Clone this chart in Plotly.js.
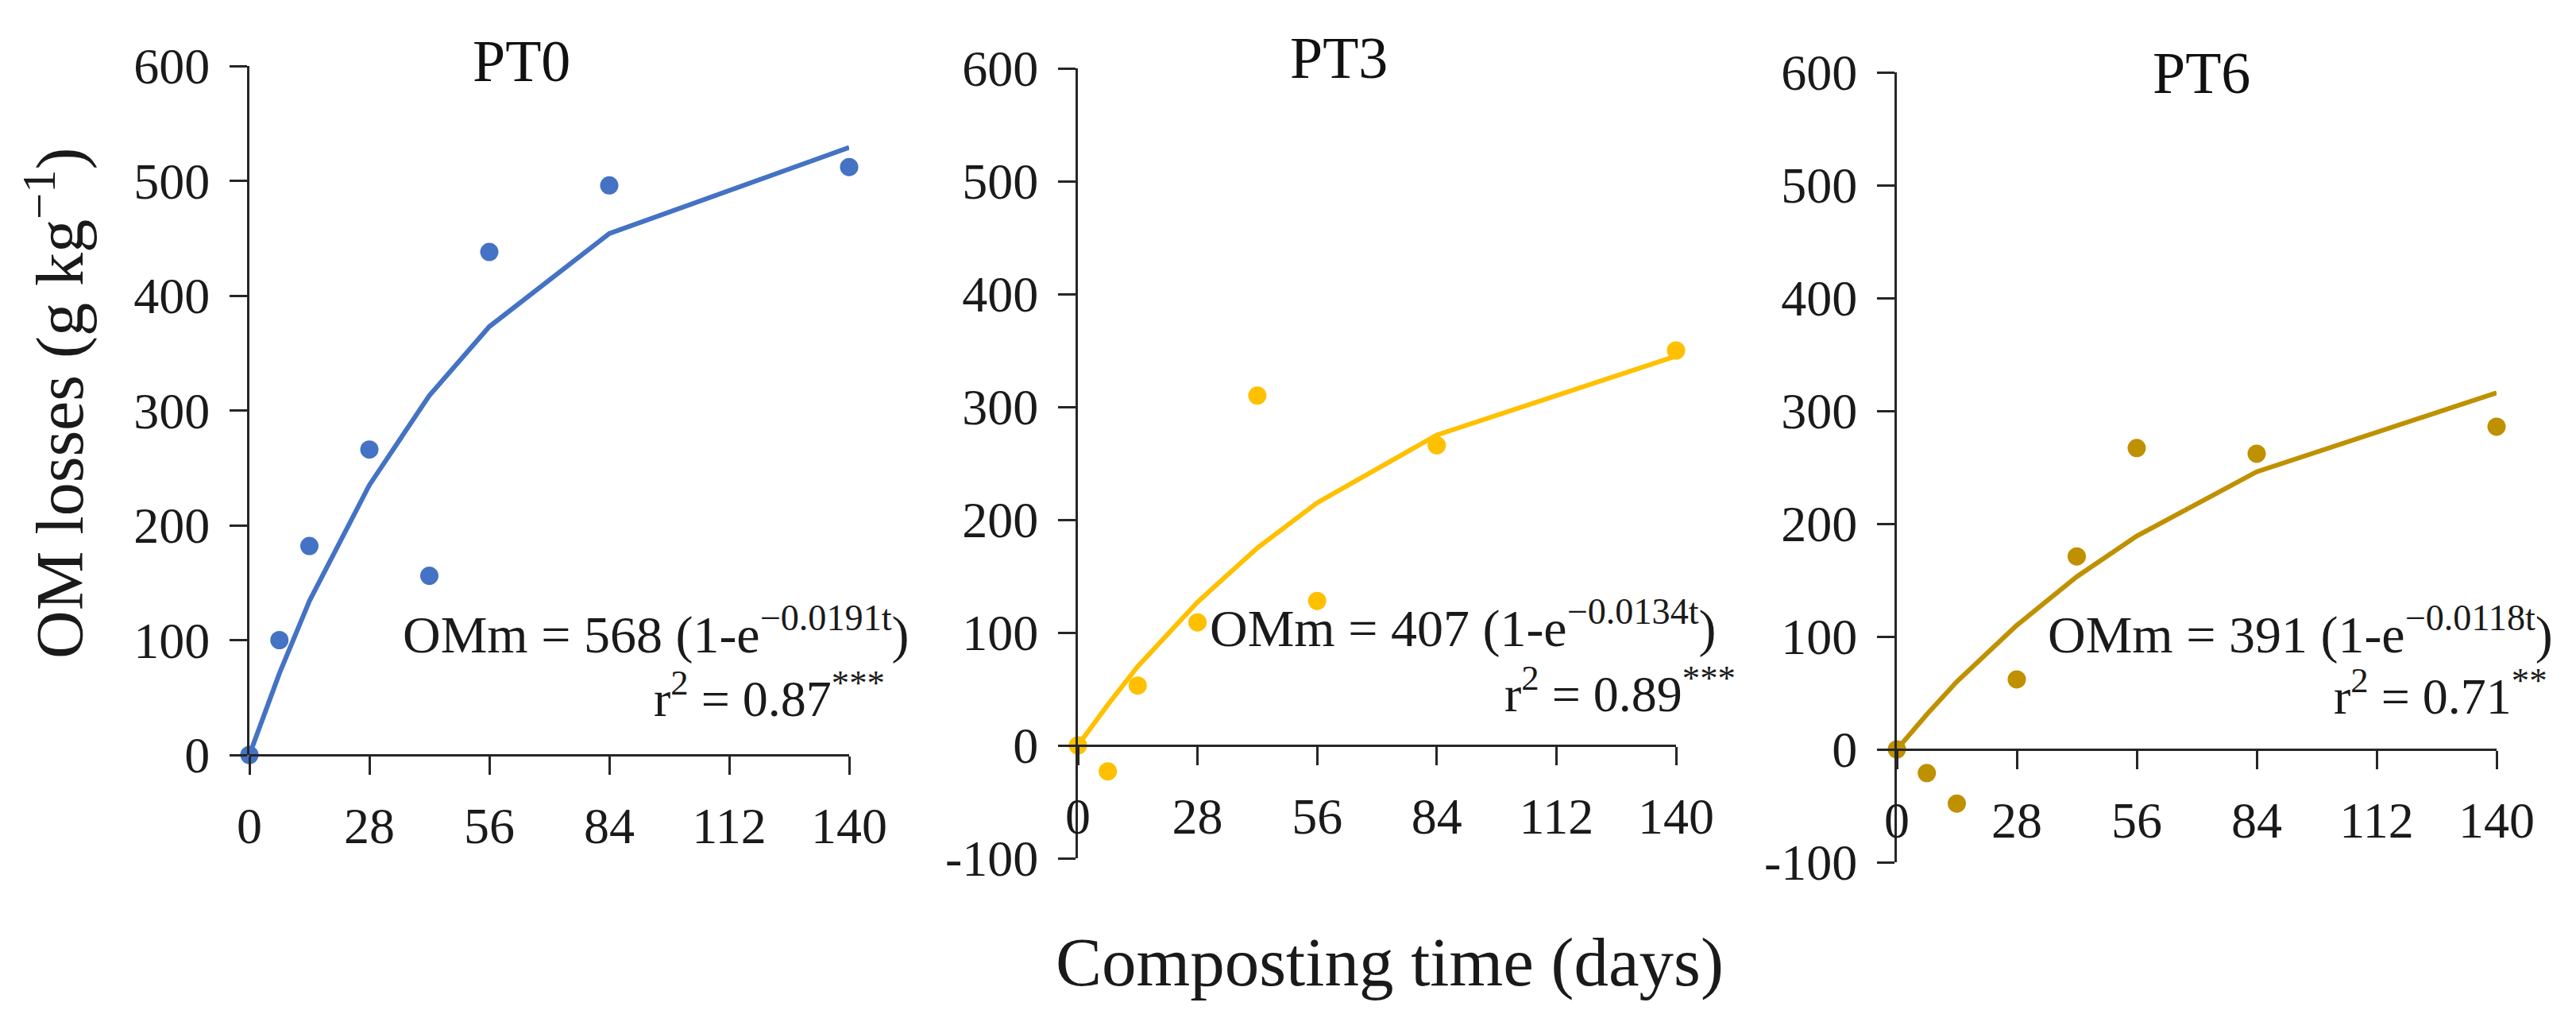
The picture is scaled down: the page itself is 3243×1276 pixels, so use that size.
<!DOCTYPE html>
<html>
<head>
<meta charset="utf-8">
<script src="https://cdn.plot.ly/plotly-3.0.1.min.js"></script>
<style>
  html, body { margin: 0; padding: 0; background: #fff; }
  #chart { width: 3243px; height: 1276px; }
</style>
</head>
<body>
<div id="chart"></div>
<script>
// composting time (days)
var days = [0, 7, 14, 28, 42, 56, 84, 140]

// OM losses (g kg-1), observed points and fitted curve
var pt0_obs = [0, 100, 182, 266, 156, 438, 496, 512]
var pt0_fit = [0, 71, 134, 235, 313, 373, 454, 529]
var pt3_obs = [0, -23, 53, 109, 310, 128, 266, 350]
var pt3_fit = [0, 36, 70, 127, 175, 215, 275, 345]
var pt6_obs = [0, -21, -48, 62, 171, 267, 262, 286]
var pt6_fit = [0, 31, 60, 110, 153, 189, 246, 316]

var panel_names = ["PT0", "PT3", "PT6"]
var equations = [
    "OMm = 568 (1-e<sup>−0.0191t</sup>)",
    "OMm = 407 (1-e<sup>−0.0134t</sup>)",
    "OMm = 391 (1-e<sup>−0.0118t</sup>)"
]
var r2_labels = [
    "r<sup>2</sup> = 0.87<sup>***</sup>",
    "r<sup>2</sup> = 0.89<sup>***</sup>",
    "r<sup>2</sup> = 0.71<sup>**</sup>"
]
var x_ticks = [0, 28, 56, 84, 112, 140]
var y_ticks_pos = [0, 100, 200, 300, 400, 500, 600]
var y_ticks_neg = [-100, 0, 100, 200, 300, 400, 500, 600]
var y_text_pos = ["0", "100", "200", "300", "400", "500", "600"]
var y_text_neg = ["-100", "0", "100", "200", "300", "400", "500", "600"]

var W = 3243, H = 1276
var FONT = "Liberation Serif, Times New Roman, serif"
var AXIS_COLOR = "#262626"
var TEXT_COLOR = "#1a1a1a"

function px(x) { return x / W }
function py(y) { return 1 - y / H }

var colors = ["#4472c4", "#ffc000", "#bf9000"]
var obs_list = [pt0_obs, pt3_obs, pt6_obs]
var fit_list = [pt0_fit, pt3_fit, pt6_fit]

// panel frames in pixels: left, right, top, bottom, y range
var panels = [
    {l: 314, r: 1069, t: 83, b: 950, yr: [0, 600], tv: y_ticks_pos, tt: y_text_pos},
    {l: 1357, r: 2110, t: 86, b: 1080, yr: [-100, 600], tv: y_ticks_neg, tt: y_text_neg},
    {l: 2388, r: 3143, t: 91, b: 1085, yr: [-100, 600], tv: y_ticks_neg, tt: y_text_neg}
]

var data = []
var layout = {
    width: W,
    height: H,
    margin: {t: 0, l: 0, r: 0, b: 0, pad: 0},
    paper_bgcolor: "white",
    plot_bgcolor: "white",
    showlegend: false,
    font: {family: FONT, color: TEXT_COLOR, size: 64},
    annotations: []
}

for (i = 0; i < 3; i++) {
    var n = i + 1
    var xa = n == 1 ? "x" : "x" + n
    var ya = n == 1 ? "y" : "y" + n
    data.push({
        x: days, y: fit_list[i], xaxis: xa, yaxis: ya,
        type: "scatter", mode: "lines",
        line: {color: colors[i], width: 6},
        cliponaxis: false, hoverinfo: "skip"
    })
    data.push({
        x: days, y: obs_list[i], xaxis: xa, yaxis: ya,
        type: "scatter", mode: "markers",
        marker: {color: colors[i], size: 23},
        cliponaxis: false
    })

    var p = panels[i]
    var ydom = [py(p.b), py(p.t)]
    var zero_pos = ydom[0] + (0 - p.yr[0]) / (p.yr[1] - p.yr[0]) * (ydom[1] - ydom[0])

    layout["xaxis" + (n == 1 ? "" : n)] = {
        domain: [px(p.l), px(p.r)],
        range: [0, 140],
        anchor: "free",
        position: zero_pos,
        tickvals: x_ticks,
        ticks: "outside",
        ticklen: 23,
        tickwidth: 3,
        tickcolor: AXIS_COLOR,
        showline: true,
        linecolor: AXIS_COLOR,
        linewidth: 3,
        showgrid: false,
        zeroline: false,
        ticklabelstandoff: 9,
        tickfont: {family: FONT, size: 64, color: TEXT_COLOR}
    }
    layout["yaxis" + (n == 1 ? "" : n)] = {
        domain: ydom,
        range: p.yr,
        anchor: xa,
        tickvals: p.tv,
        ticktext: p.tt,
        ticks: "outside",
        ticklen: 22,
        tickwidth: 3,
        tickcolor: AXIS_COLOR,
        showline: true,
        linecolor: AXIS_COLOR,
        linewidth: 3,
        showgrid: false,
        zeroline: false,
        ticklabelstandoff: 12,
        tickfont: {family: FONT, size: 64, color: TEXT_COLOR}
    }
}

// panel titles and fitted equations
var title_pos = [[656, 77], [1685, 73], [2771, 92]]
var eq_pos = [[505, 794], [1521, 786], [2576, 794]]
var r2_pos = [[821, 874], [1892, 868], [2936, 871]]
for (i = 0; i < 3; i++) {
    layout.annotations.push({
        xref: "paper", yref: "paper", x: px(title_pos[i][0]), y: py(title_pos[i][1]),
        text: panel_names[i], showarrow: false, xanchor: "center", yanchor: "middle",
        font: {family: FONT, size: 74, color: "#111"}
    })
    layout.annotations.push({
        xref: "paper", yref: "paper", x: px(eq_pos[i][0]), y: py(eq_pos[i][1]),
        text: equations[i], showarrow: false, xanchor: "left", yanchor: "middle",
        font: {family: FONT, size: 66, color: TEXT_COLOR}
    })
    layout.annotations.push({
        xref: "paper", yref: "paper", x: px(r2_pos[i][0]), y: py(r2_pos[i][1]),
        text: r2_labels[i], showarrow: false, xanchor: "left", yanchor: "middle",
        font: {family: FONT, size: 64, color: TEXT_COLOR}
    })
}

// shared axis titles
layout.annotations.push({
    xref: "paper", yref: "paper", x: px(70), y: py(507),
    text: "OM losses (g kg<sup>−1</sup>)", showarrow: false, textangle: -90,
    xanchor: "center", yanchor: "middle",
    font: {family: FONT, size: 84, color: TEXT_COLOR}
})
layout.annotations.push({
    xref: "paper", yref: "paper", x: px(1749), y: py(1210),
    text: "Composting time (days)", showarrow: false,
    xanchor: "center", yanchor: "middle",
    font: {family: FONT, size: 87, color: TEXT_COLOR}
})

Plotly.newPlot("chart", data, layout, {displayModeBar: false, staticPlot: true})
</script>
</body>
</html>
